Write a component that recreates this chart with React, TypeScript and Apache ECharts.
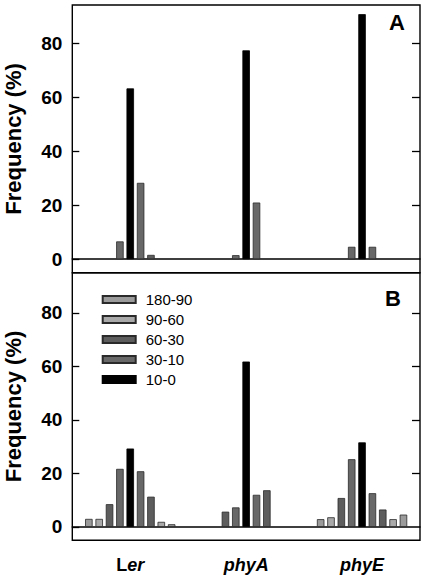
import React, { useEffect, useRef } from "react";
import * as echarts from "echarts";

const categories = ["Ler", "phyA", "phyE"];
const legendNames = ["180-90", "90-60", "60-30", "30-10", "10-0"];
const yTicks = [0, 20, 40, 60, 80];
const rightTicks = [20, 40, 60, 80];

// Panel A (bins ordered from left to right around each genotype)
const aLeft180: (number | null)[] = [null, null, null];
const aLeft90: (number | null)[] = [null, null, null];
const aLeft60: (number | null)[] = [null, null, null];
const aLeft30: (number | null)[] = [6.6, 1.5, 4.6];
const aCenter10: (number | null)[] = [63.3, 77.4, 90.8];
const aRight30: (number | null)[] = [28.3, 21.0, 4.6];
const aRight60: (number | null)[] = [1.6, null, null];
const aRight90: (number | null)[] = [null, null, null];
const aRight180: (number | null)[] = [null, null, null];

// Panel B
const bLeft180: (number | null)[] = [3.0, null, 2.9];
const bLeft90: (number | null)[] = [3.0, null, 3.6];
const bLeft60: (number | null)[] = [8.5, 5.7, 10.8];
const bLeft30: (number | null)[] = [21.7, 7.3, 25.3];
const bCenter10: (number | null)[] = [29.3, 61.8, 31.6];
const bRight30: (number | null)[] = [20.8, 12.0, 12.6];
const bRight60: (number | null)[] = [11.3, 13.7, 6.5];
const bRight90: (number | null)[] = [1.9, null, 2.9];
const bRight180: (number | null)[] = [1.0, null, 4.6];

const FONT = "'Liberation Sans', Arial, Helvetica, sans-serif";

const binColors: Record<string, string> = {
  "180-90": "#9b9b9b",
  "90-60": "#a9a9a9",
  "60-30": "#5d5d5d",
  "30-10": "#686868",
  "10-0": "#000000",
};

const seriesNames = ["180-90", "90-60", "60-30", "30-10", "10-0", "30-10", "60-30", "90-60", "180-90"];

export default function App() {
  const ref = useRef<HTMLDivElement>(null);

  useEffect(() => {
    if (!ref.current) return;
    const chart = echarts.init(ref.current, undefined, { renderer: "svg" });

    const panelA = [aLeft180, aLeft90, aLeft60, aLeft30, aCenter10, aRight30, aRight60, aRight90, aRight180];
    const panelB = [bLeft180, bLeft90, bLeft60, bLeft30, bCenter10, bRight30, bRight60, bRight90, bRight180];

    const makeSeries = (panel: (number | null)[][], xi: number, yi: number) =>
      panel.map((vals, i) => {
        const name = seriesNames[i];
        const s: any = {
          type: "bar",
          name,
          xAxisIndex: xi,
          yAxisIndex: yi,
          data: vals.map((v) => (v === null ? "-" : v)),
          barWidth: 7.5,
          barGap: "38%",
          itemStyle: {
            color: binColors[name],
            borderColor: name === "10-0" ? "#000" : "#2a2a2a",
            borderWidth: 0.8,
          },
          silent: true,
        };
        return s;
      });

    const yAxisPair = (gi: number, min: number, max: number) => [
      {
        type: "value",
        gridIndex: gi,
        min,
        max,
        position: "left",
        axisLine: { show: false },
        splitLine: { show: false },
        axisTick: {
          show: true,
          inside: true,
          length: 7,
          customValues: yTicks,
          lineStyle: { color: "#000", width: 1.3 },
        },
        axisLabel: {
          customValues: yTicks,
          fontSize: 19,
          fontWeight: "bold",
          color: "#000",
          margin: 10,
          fontFamily: FONT,
        },
        name: "Frequency (%)",
        nameLocation: "middle",
        nameGap: 48,
        nameTextStyle: { fontSize: 22, fontWeight: "bold", color: "#000", fontFamily: FONT },
      },
      {
        type: "value",
        gridIndex: gi,
        min,
        max,
        position: "right",
        axisLine: { show: false },
        splitLine: { show: false },
        axisTick: {
          show: true,
          inside: true,
          length: 8,
          customValues: rightTicks,
          lineStyle: { color: "#000", width: 1.3 },
        },
        axisLabel: { show: false },
      },
    ];

    const option: any = {
      animation: false,
      backgroundColor: "#fff",
      textStyle: { fontFamily: FONT },
      grid: [
        { left: 72.3, top: 5, width: 347.7, height: 267.7, outerBoundsMode: "none", containLabel: false, show: true, borderColor: "#000", borderWidth: 1.4, backgroundColor: "transparent" },
        { left: 72.3, top: 272.7, width: 347.7, height: 267.6, outerBoundsMode: "none", containLabel: false, show: true, borderColor: "#000", borderWidth: 1.4, backgroundColor: "transparent" },
      ],
      legend: {
        data: legendNames,
        orient: "vertical",
        left: 101.7,
        top: 292,
        padding: 0,
        itemWidth: 33,
        itemHeight: 7,
        itemGap: 5,
        icon: "rect",
        selectedMode: false,
        textStyle: { fontSize: 15, color: "#000", fontFamily: FONT, padding: [0, 0, 0, 5] },
      },
      xAxis: [
        {
          type: "category",
          gridIndex: 0,
          data: categories,
          axisLine: { onZero: true, lineStyle: { color: "#000", width: 1.6 } },
          axisTick: { show: false },
          axisLabel: { show: false },
        },
        {
          type: "category",
          gridIndex: 1,
          data: categories,
          axisLine: { onZero: true, lineStyle: { color: "#000", width: 1.6 } },
          axisTick: { show: false },
          axisLabel: {
            margin: 16,
            color: "#000",
            fontFamily: FONT,
            formatter: (v: string) => (v === "Ler" ? "{n|L}{i|er}" : "{i|" + v + "}"),
            rich: {
              n: { fontSize: 18, fontWeight: "bold", fontStyle: "normal", color: "#000", fontFamily: FONT },
              i: { fontSize: 18, fontWeight: "bold", fontStyle: "italic", color: "#000", fontFamily: FONT },
            },
          },
        },
      ],
      yAxis: [...yAxisPair(0, -5, 94.2), ...yAxisPair(1, -5, 95)],
      series: [...makeSeries(panelA, 0, 0), ...makeSeries(panelB, 1, 2)],
      graphic: [
        {
          type: "text",
          x: 397,
          y: 22,
          style: { text: "A", fontSize: 22, fontWeight: "bold", fill: "#000", fontFamily: FONT, align: "center", verticalAlign: "middle" },
        },
        {
          type: "text",
          x: 393,
          y: 298,
          style: { text: "B", fontSize: 22, fontWeight: "bold", fill: "#000", fontFamily: FONT, align: "center", verticalAlign: "middle" },
        },
      ],
    };

    chart.setOption(option);
    return () => chart.dispose();
  }, []);

  return (
    <div
      ref={ref}
      style={{ position: "fixed", left: 0, top: 0, width: 425, height: 576, background: "#fff" }}
    />
  );
}
